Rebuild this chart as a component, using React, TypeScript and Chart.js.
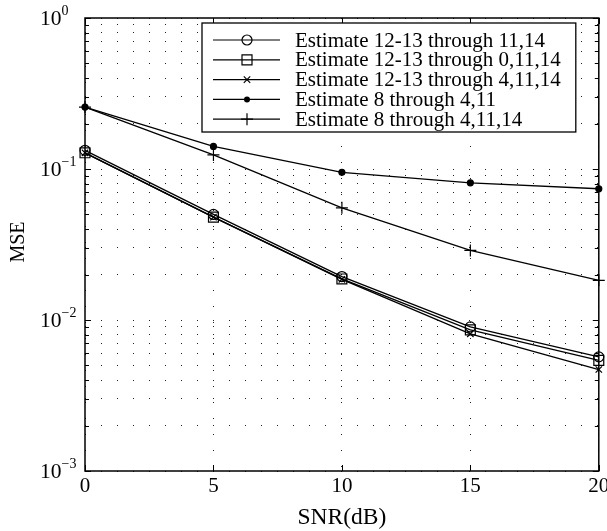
import { useEffect, useRef } from 'react';
import { Chart, registerables } from 'chart.js';

Chart.register(...registerables);

const FONT = '"Liberation Serif", "Times New Roman", serif';

// SNR (dB) sample points
const snrDb = [0, 5, 10, 15, 20];
const xTickValues = [0, 5, 10, 15, 20];
const yDecadeExponents = [-3, -2, -1, 0];

const seriesLabels = [
  'Estimate 12-13 through 11,14',
  'Estimate 12-13 through 0,11,14',
  'Estimate 12-13 through 4,11,14',
  'Estimate 8 through 4,11',
  'Estimate 8 through 4,11,14',
];

const mse1211_14 = [0.133, 0.05, 0.0194, 0.009, 0.0057];
const mse1213_0_11_14 = [0.128, 0.048, 0.0187, 0.0086, 0.0054];
const mse1213_4_11_14 = [0.128, 0.048, 0.0186, 0.0081, 0.0047];
const mse8_4_11 = [0.257, 0.141, 0.095, 0.081, 0.074];
const mse8_4_11_14 = [0.257, 0.124, 0.0553, 0.0289, 0.0183];

const seriesValues = [mse1211_14, mse1213_0_11_14, mse1213_4_11_14, mse8_4_11, mse8_4_11_14];
const seriesMarkers = ['circle', 'rect', 'crossRot', 'dot', 'cross'];
const markerRadius: Record<string, number> = { circle: 5, rect: 7, crossRot: 4.5, dot: 3, cross: 6 };

function drawMarker(ctx: CanvasRenderingContext2D, style: string, x: number, y: number) {
  ctx.save();
  ctx.strokeStyle = '#000';
  ctx.fillStyle = '#000';
  ctx.lineWidth = 1.2;
  ctx.beginPath();
  if (style === 'circle') {
    ctx.arc(x, y, 5, 0, Math.PI * 2);
    ctx.stroke();
  } else if (style === 'rect') {
    ctx.rect(x - 5, y - 5, 10, 10);
    ctx.stroke();
  } else if (style === 'crossRot') {
    const d = 3.2;
    ctx.moveTo(x - d, y - d);
    ctx.lineTo(x + d, y + d);
    ctx.moveTo(x - d, y + d);
    ctx.lineTo(x + d, y - d);
    ctx.stroke();
  } else if (style === 'dot') {
    ctx.arc(x, y, 3, 0, Math.PI * 2);
    ctx.fill();
  } else if (style === 'cross') {
    ctx.moveTo(x - 6, y);
    ctx.lineTo(x + 6, y);
    ctx.moveTo(x, y - 6);
    ctx.lineTo(x, y + 6);
    ctx.stroke();
  }
  ctx.restore();
}

const framePlugin = {
  id: 'matlabFrame',
  afterDraw(chart: any) {
    const { ctx, chartArea: a, scales } = chart;
    const xs = scales.x;
    const ys = scales.y;
    ctx.save();

    // inward ticks
    ctx.strokeStyle = '#000';
    ctx.lineWidth = 1;
    ctx.beginPath();
    for (const t of ys.ticks) {
      const py = Math.round(ys.getPixelForValue(t.value)) + 0.5;
      const lg = Math.log10(t.value);
      const major = Math.abs(lg - Math.round(lg)) < 1e-9;
      const len = major ? 6 : 4;
      ctx.moveTo(a.left, py);
      ctx.lineTo(a.left + len, py);
      ctx.moveTo(a.right, py);
      ctx.lineTo(a.right - len, py);
    }
    for (const v of xTickValues) {
      const px = Math.round(xs.getPixelForValue(v)) + 0.5;
      ctx.moveTo(px, a.bottom);
      ctx.lineTo(px, a.bottom - 6);
      ctx.moveTo(px, a.top);
      ctx.lineTo(px, a.top + 6);
    }
    ctx.stroke();

    // box
    ctx.lineWidth = 1.5;
    ctx.strokeRect(a.left, a.top, a.right - a.left, a.bottom - a.top);

    // y tick labels 10^e
    ctx.fillStyle = '#000';
    ctx.textAlign = 'left';
    ctx.textBaseline = 'alphabetic';
    for (const e of yDecadeExponents) {
      const py = ys.getPixelForValue(Math.pow(10, e));
      ctx.font = `21.5px ${FONT}`;
      ctx.fillText('10', 40, py + 7);
      const w = ctx.measureText('10').width;
      ctx.font = `14px ${FONT}`;
      ctx.fillText(e < 0 ? '\u2212' + String(-e) : String(e), 40 + w, py - 3);
    }

    // axis titles
    ctx.font = `23.5px ${FONT}`;
    ctx.textAlign = 'center';
    ctx.fillText('SNR(dB)', (a.left + a.right) / 2, 524);
    ctx.save();
    ctx.translate(16.5, 242);
    ctx.rotate(-Math.PI / 2);
    ctx.font = `20px ${FONT}`;
    ctx.textBaseline = 'alphabetic';
    ctx.fillText('MSE', 0, 7);
    ctx.restore();

    // legend
    const lx0 = a.left + 117;
    const ly0 = a.top + 5;
    const lx1 = a.right - 23;
    const ly1 = a.top + 114;
    ctx.fillStyle = '#fff';
    ctx.fillRect(lx0, ly0, lx1 - lx0, ly1 - ly0);
    ctx.strokeStyle = '#000';
    ctx.lineWidth = 1.3;
    ctx.strokeRect(lx0, ly0, lx1 - lx0, ly1 - ly0);
    chart.data.datasets.forEach((ds: any, i: number) => {
      const cy = ly0 + 17 + i * 19.8;
      ctx.strokeStyle = '#000';
      ctx.lineWidth = 1.2;
      ctx.beginPath();
      ctx.moveTo(lx0 + 11, cy);
      ctx.lineTo(lx0 + 78, cy);
      ctx.stroke();
      drawMarker(ctx, seriesMarkers[i], lx0 + 45, cy);
      ctx.fillStyle = '#000';
      ctx.font = `21px ${FONT}`;
      ctx.textAlign = 'left';
      ctx.textBaseline = 'middle';
      ctx.fillText(ds.label, lx0 + 93, cy + 1);
    });

    ctx.restore();
  },
};

export default function App() {
  const ref = useRef<HTMLCanvasElement | null>(null);

  useEffect(() => {
    document.body.style.margin = '0';
    const canvas = ref.current;
    if (!canvas) return;

    const datasets = seriesLabels.map((label, i) => {
      const m = seriesMarkers[i];
      const isDot = m === 'dot';
      return {
        label,
        data: snrDb.map((x, j) => ({ x, y: seriesValues[i][j] })),
        borderColor: '#000',
        borderWidth: 1.3,
        pointStyle: isDot ? 'circle' : m,
        pointRadius: markerRadius[m],
        pointBorderColor: '#000',
        pointBackgroundColor: isDot ? '#000' : 'rgba(0,0,0,0)',
        pointBorderWidth: 1.2,
        tension: 0,
        fill: false,
        clip: false as any,
      };
    });

    const chart = new Chart(canvas, {
      type: 'line',
      data: { datasets },
      options: {
        responsive: false,
        animation: false,
        devicePixelRatio: 1,
        layout: { padding: { top: 18, right: 7, left: 0, bottom: 0 } },
        plugins: { legend: { display: false }, tooltip: { enabled: false } },
        scales: {
          x: {
            type: 'linear',
            min: 0,
            max: 20,
            ticks: {
              stepSize: 5,
              color: '#000',
              padding: 3,
              maxRotation: 0,
              font: { family: FONT, size: 21 },
            },
            grid: { color: '#222', lineWidth: 1, drawTicks: false },
            border: { display: false, dash: [1, 15] },
            afterFit: (s: any) => {
              s.height = 60;
              s.paddingLeft = 0;
              s.paddingRight = 0;
            },
          },
          y: {
            type: 'logarithmic',
            min: 0.001,
            max: 1,
            ticks: { display: false, autoSkip: false },
            grid: { color: '#222', lineWidth: 1, drawTicks: false },
            border: { display: false, dash: [1, 15] },
            afterBuildTicks: (s: any) => {
              const t: { value: number }[] = [];
              for (const e of yDecadeExponents) {
                if (e === 0) {
                  t.push({ value: 1 });
                  continue;
                }
                for (let k = 1; k <= 9; k++) t.push({ value: k * Math.pow(10, e) });
              }
              s.ticks = t;
            },
            afterFit: (s: any) => {
              s.width = 85;
              s.paddingTop = 0;
              s.paddingBottom = 0;
            },
          },
        },
      },
      plugins: [framePlugin],
    });

    return () => chart.destroy();
  }, []);

  return <canvas ref={ref} width={607} height={531} style={{ display: 'block' }} />;
}
